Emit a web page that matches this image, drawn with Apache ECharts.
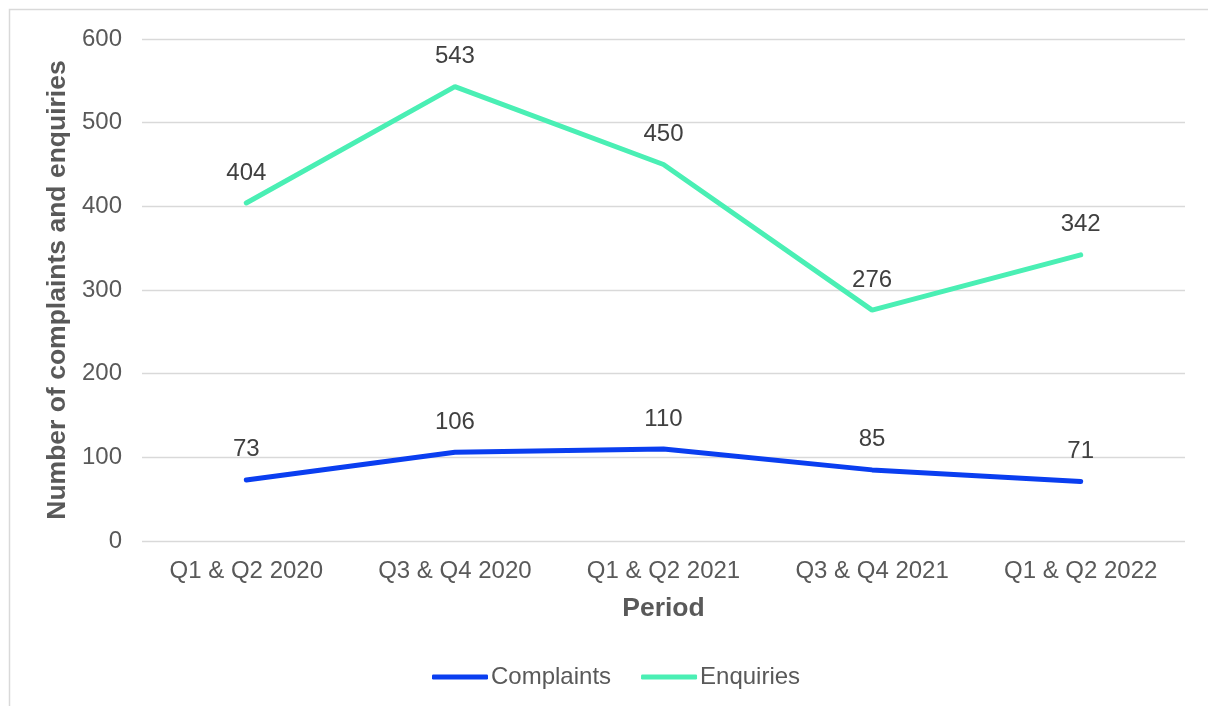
<!DOCTYPE html>
<html>
<head>
<meta charset="utf-8">
<script src="https://cdn.jsdelivr.net/npm/echarts@6/dist/echarts.min.js"></script>
<style>
html,body{margin:0;padding:0;background:#fff;}
#chart{width:1208px;height:706px;}
</style>
</head>
<body>
<div id="chart"></div>
<script>
var categories = ['Q1 & Q2 2020', 'Q3 & Q4 2020', 'Q1 & Q2 2021', 'Q3 & Q4 2021', 'Q1 & Q2 2022'];
var complaints = [73, 106, 110, 85, 71];
var enquiries = [404, 543, 450, 276, 342];
var yTicks = [0, 100, 200, 300, 400, 500, 600];

var FONT = '"Liberation Sans", Arial, sans-serif';
var chart = echarts.init(document.getElementById('chart'));
var labelStyle = {show: true, position: 'top', distance: 18, fontFamily: FONT, fontSize: 24, color: '#404040'};
chart.setOption({
  animation: false,
  backgroundColor: '#fff',
  graphic: [{
    type: 'rect',
    shape: {x: 9.5, y: 9.5, width: 1230, height: 720},
    style: {fill: 'none', stroke: '#d9d9d9', lineWidth: 1.5},
    silent: true
  }],
  grid: {left: 142, right: 23, top: 39, bottom: 165},
  legend: {
    bottom: 12,
    left: 427,
    itemWidth: 56,
    itemHeight: 5,
    itemGap: 30,
    icon: 'roundRect',
    textStyle: {fontFamily: FONT, fontSize: 24, color: '#595959', padding: [0, 0, 0, -2]},
    data: ['Complaints', 'Enquiries']
  },
  xAxis: {
    type: 'category',
    data: categories,
    boundaryGap: true,
    axisLine: {show: false},
    axisTick: {show: false},
    axisLabel: {fontFamily: FONT, fontSize: 24, color: '#595959', margin: 18},
    name: 'Period',
    nameLocation: 'middle',
    nameGap: 54,
    nameTextStyle: {fontFamily: FONT, fontSize: 26.5, fontWeight: 'bold', color: '#595959'}
  },
  yAxis: {
    type: 'value',
    min: yTicks[0],
    max: yTicks[yTicks.length - 1],
    interval: 100,
    axisLine: {show: false},
    axisTick: {show: false},
    splitLine: {lineStyle: {color: '#d9d9d9', width: 1.3}},
    axisLabel: {fontFamily: FONT, fontSize: 24, color: '#595959', margin: 20},
    name: 'Number of complaints and enquiries',
    nameLocation: 'middle',
    nameGap: 69,
    nameTextStyle: {fontFamily: FONT, fontSize: 26.5, fontWeight: 'bold', color: '#595959'}
  },
  series: [{
    name: 'Complaints',
    type: 'line',
    data: complaints,
    symbol: 'circle',
    symbolSize: 0.1,
    lineStyle: {width: 5, color: '#0a3ef0', cap: 'round'},
    itemStyle: {color: '#0a3ef0'},
    label: labelStyle
  }, {
    name: 'Enquiries',
    type: 'line',
    data: enquiries,
    symbol: 'circle',
    symbolSize: 0.1,
    lineStyle: {width: 5, color: '#4aefb4', cap: 'round'},
    itemStyle: {color: '#4aefb4'},
    label: labelStyle
  }]
});
</script>
</body>
</html>
